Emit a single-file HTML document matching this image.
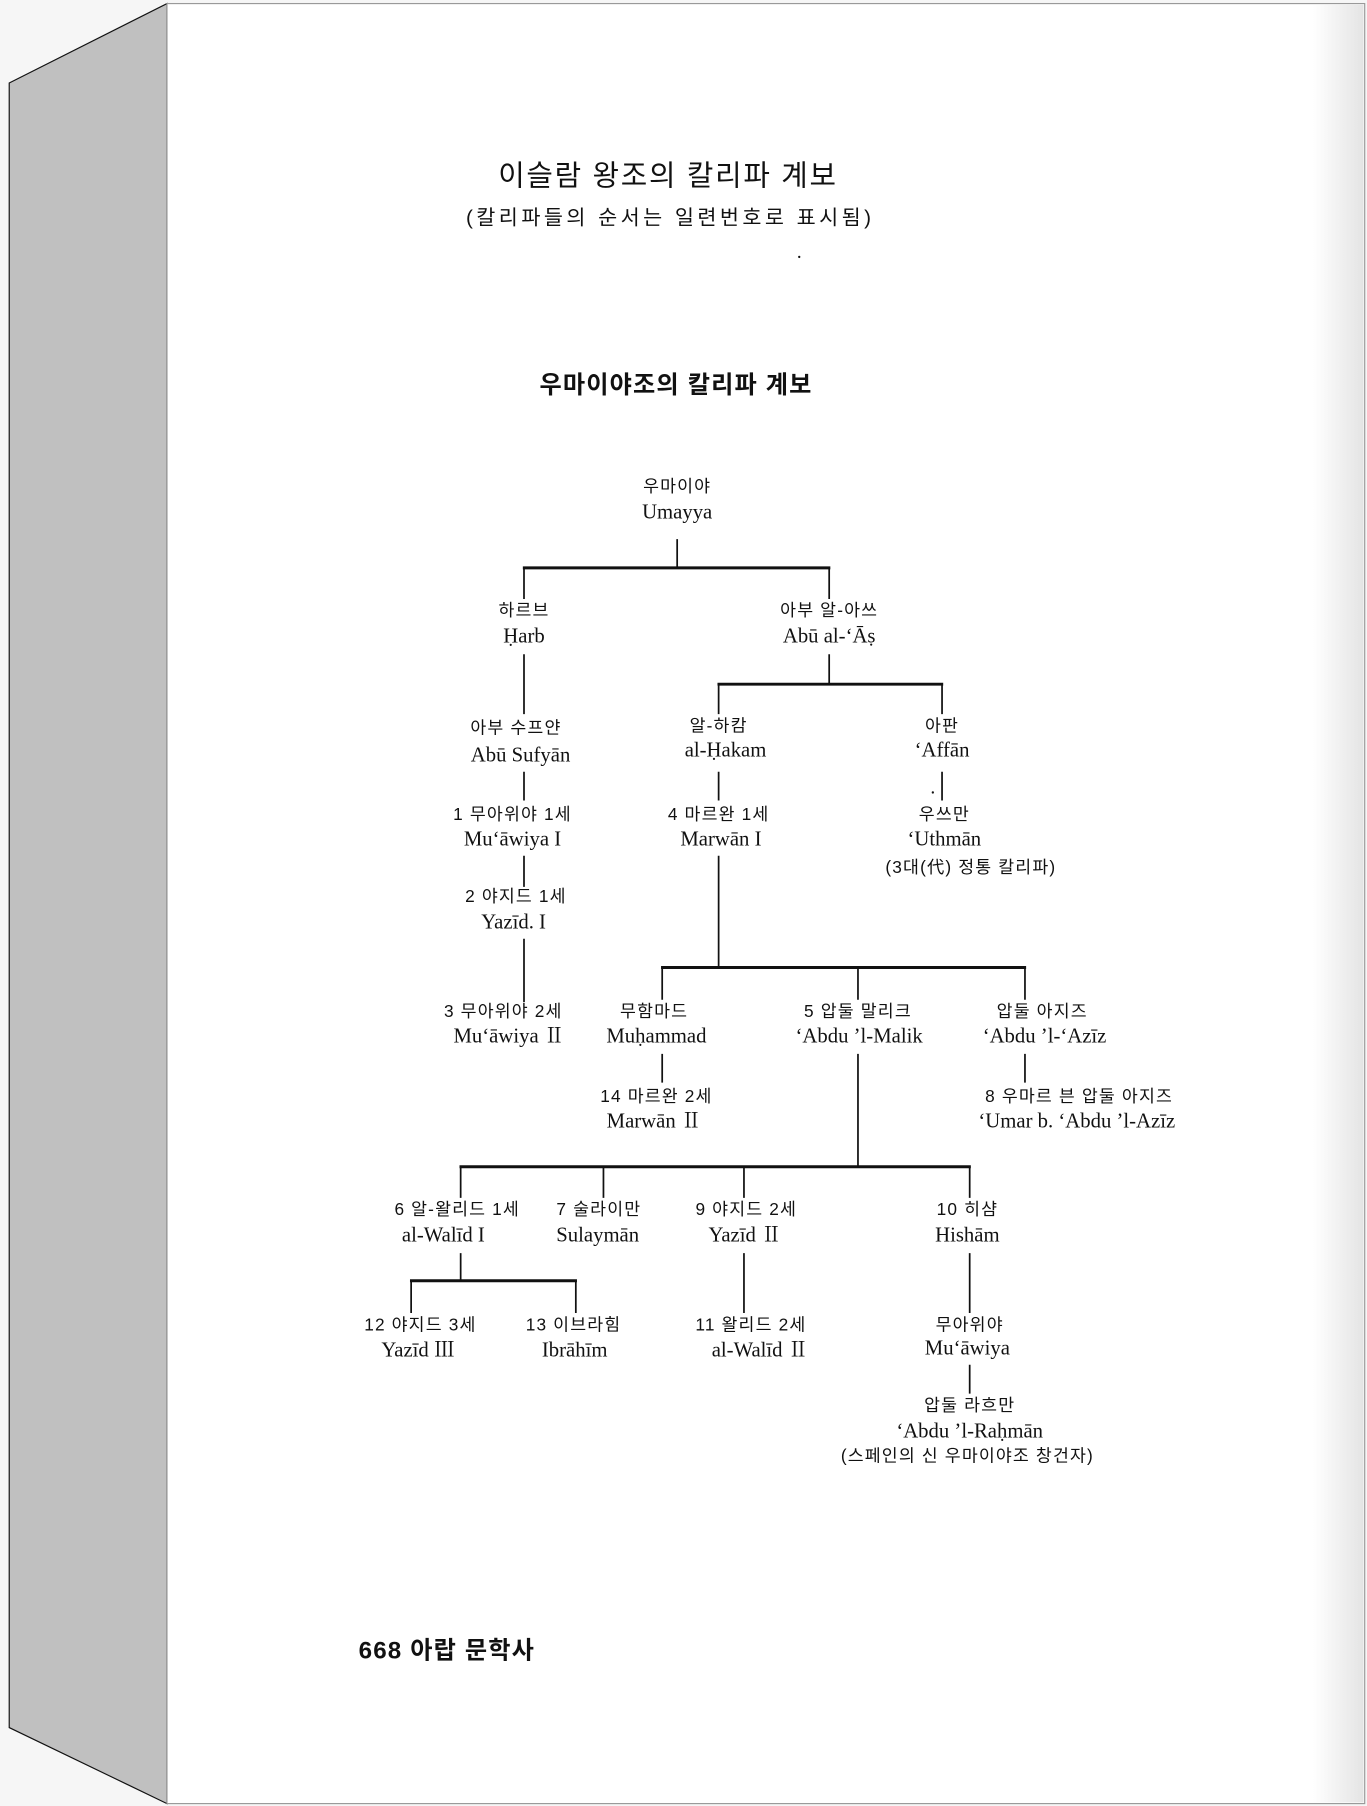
<!DOCTYPE html>
<html><head><meta charset="utf-8"><style>
html,body{margin:0;padding:0;background:#f6f6f6;}
svg{display:block}
.k{font-family:"Liberation Sans","Noto Sans CJK KR",sans-serif;font-size:15px;fill:#111;text-anchor:middle;letter-spacing:1px}
.l{font-family:"Liberation Serif","Noto Serif CJK SC",serif;font-size:18px;fill:#111;text-anchor:middle}
</style></head><body>
<svg width="1367" height="1806" viewBox="0 0 1187 1568" xmlns="http://www.w3.org/2000/svg">
<defs><linearGradient id="g" x1="0" x2="1"><stop offset="0" stop-color="#fff"/><stop offset="1" stop-color="#e4e4e4"/></linearGradient></defs>
<rect x="0" y="0" width="1187" height="1568" fill="#f6f6f6"/>
<polygon points="8,72 145,3 145,1566 8,1500" fill="#c0c0c0" stroke="#111" stroke-width="1"/>
<rect x="145" y="3" width="1040" height="1563" fill="#fff" stroke="#999" stroke-width="1"/>
<rect x="1140" y="4" width="44" height="1561" fill="url(#g)"/>
<g font-family="Liberation Sans,'Noto Sans CJK KR',sans-serif" text-anchor="middle" fill="#111">
<text x="580" y="161" font-size="25" letter-spacing="1.5">이슬람 왕조의 칼리파 계보</text>
<text x="582" y="195" font-size="18" letter-spacing="3">(칼리파들의 순서는 일련번호로 표시됨)</text>
<text x="587" y="341" font-size="21" font-weight="bold" letter-spacing="1">우마이야조의 칼리파 계보</text>
<text x="388" y="1440" font-size="21" font-weight="bold" letter-spacing="1">668 아랍 문학사</text>
</g>
<g stroke="#111" fill="none">
<g stroke-width="2.6">
<line x1="454" y1="493" x2="721" y2="493"/>
<line x1="623" y1="594" x2="819" y2="594"/>
<line x1="574" y1="840" x2="891" y2="840"/>
<line x1="399" y1="1013" x2="843" y2="1013"/>
<line x1="356" y1="1112" x2="501" y2="1112"/>
</g>
<g stroke-width="1.5">
<path d="M588 468V493M455 493V520M720 493V520"/>
<path d="M455 568V620M720 568V594M624 594V620M818 594V620"/>
<path d="M455 670V695M624 670V695M818 670V695"/>
<path d="M455 743V770M455 815V870M624 743V840"/>
<path d="M575 840V868M745 840V868M890 840V868"/>
<path d="M575 915V940M890 915V940M745 915V1013"/>
<path d="M400 1013V1040M524 1013V1040M646 1013V1040M842 1013V1040"/>
<path d="M400 1088V1112M357 1112V1140M500 1112V1140M646 1088V1140M842 1088V1140M842 1185V1210"/>
</g>
</g>
<circle cx="810" cy="688" r="1" fill="#111"/>
<circle cx="694" cy="223" r="1" fill="#111"/>
<text class="k" x="588" y="427">우마이야</text><text class="l" x="588" y="450">Umayya</text>
<text class="k" x="455" y="535">하르브</text><text class="l" x="455" y="558">Ḥarb</text>
<text class="k" x="720" y="535">아부 알-아쓰</text><text class="l" x="720" y="558">Abū al-‘Āṣ</text>
<text class="k" x="448" y="637">아부 수프얀</text><text class="l" x="452" y="661">Abū Sufyān</text>
<text class="k" x="624" y="635">알-하캄</text><text class="l" x="630" y="657">al-Ḥakam</text>
<text class="k" x="818" y="635">아판</text><text class="l" x="818" y="657">‘Affān</text>
<text class="k" x="445" y="712">1 무아위야 1세</text><text class="l" x="445" y="734">Mu‘āwiya I</text>
<text class="k" x="624" y="712">4 마르완 1세</text><text class="l" x="626" y="734">Marwān I</text>
<text class="k" x="820" y="712">우쓰만</text><text class="l" x="820" y="734">‘Uthmān</text>
<text class="k" x="843" y="758">(3대(代) 정통 칼리파)</text>
<text class="k" x="448" y="783">2 야지드 1세</text><text class="l" x="446" y="806">Yazīd. I</text>
<text class="k" x="437" y="883">3 무아위야 2세</text><text class="l" x="442" y="905">Mu‘āwiya Ⅱ</text>
<text class="k" x="568" y="883">무함마드</text><text class="l" x="570" y="905">Muḥammad</text>
<text class="k" x="745" y="883">5 압둘 말리크</text><text class="l" x="746" y="905">‘Abdu ’l-Malik</text>
<text class="k" x="905" y="883">압둘 아지즈</text><text class="l" x="907" y="905">‘Abdu ’l-‘Azīz</text>
<text class="k" x="570" y="957">14 마르완 2세</text><text class="l" x="568" y="979">Marwān Ⅱ</text>
<text class="k" x="937" y="957">8 우마르 븐 압둘 아지즈</text><text class="l" x="935" y="979">‘Umar b. ‘Abdu ’l-Azīz</text>
<text class="k" x="397" y="1055">6 알-왈리드 1세</text><text class="l" x="385" y="1078">al-Walīd I</text>
<text class="k" x="520" y="1055">7 술라이만</text><text class="l" x="519" y="1078">Sulaymān</text>
<text class="k" x="648" y="1055">9 야지드 2세</text><text class="l" x="647" y="1078">Yazīd Ⅱ</text>
<text class="k" x="840" y="1055">10 히샴</text><text class="l" x="840" y="1078">Hishām</text>
<text class="k" x="365" y="1155">12 야지드 3세</text><text class="l" x="363" y="1178">Yazīd Ⅲ</text>
<text class="k" x="498" y="1155">13 이브라힘</text><text class="l" x="499" y="1178">Ibrāhīm</text>
<text class="k" x="652" y="1155">11 왈리드 2세</text><text class="l" x="660" y="1178">al-Walīd Ⅱ</text>
<text class="k" x="842" y="1155">무아위야</text><text class="l" x="840" y="1176">Mu‘āwiya</text>
<text class="k" x="842" y="1225">압둘 라흐만</text><text class="l" x="842" y="1248">‘Abdu ’l-Raḥmān</text>
<text class="k" x="840" y="1269">(스페인의 신 우마이야조 창건자)</text>
</svg>
</body></html>
